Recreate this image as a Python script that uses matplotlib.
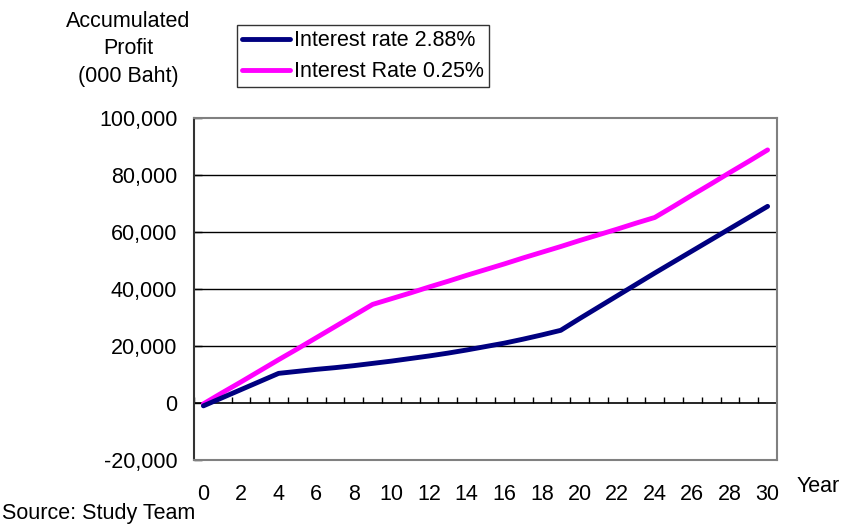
import numpy as np
import matplotlib.pyplot as plt
from matplotlib.ticker import FuncFormatter

plt.rcParams['font.family'] = ['Liberation Sans', 'DejaVu Sans']

DPI = 100
FIGSIZE = (8.41, 5.24)
FONTSIZE = 15.5
LINEWIDTH = 3.5
NAVY = '#000080'
MAGENTA = '#FF00FF'
GREY = '#808080'

# accumulated profit, thousand baht, years 0..30
years = np.arange(0, 31)
profit_288 = [-1000, 1850, 4700, 7550, 10400, 11100, 11800, 12400, 13100, 13900,
              14700, 15600, 16500, 17500, 18600, 19800, 21000, 22400, 23900, 25500,
              29600, 33600, 37600, 41600, 45600, 49500, 53400, 57300, 61200, 65100,
              69000]
profit_025 = [-300, 3600, 7400, 11300, 15200, 19000, 22900, 26800, 30700, 34600,
              36600, 38600, 40700, 42700, 44800, 46800, 48800, 50900, 52900, 54900,
              57000, 59000, 61000, 63100, 65100, 69000, 73000, 76900, 80900, 84800,
              88800]
labels = ['Interest rate 2.88%', 'Interest Rate 0.25%']
y_ticks = [-20000, 0, 20000, 40000, 60000, 80000, 100000]
x_ticks = np.arange(0, 31, 2)


def main():
    fig = plt.figure(figsize=FIGSIZE, dpi=DPI)
    ax = fig.add_axes([194 / 841, 1 - 460 / 524, 583 / 841, 342 / 524])

    # horizontal gridlines, black like the source workbook
    for v in y_ticks[2:-1]:
        ax.axhline(v, color='black', lw=1.0, zorder=1)

    # category axis at zero with ticks between categories
    ax.axhline(0, color='black', lw=1.2, zorder=2)
    bounds = np.arange(-0.5, 31, 1)
    ax.vlines(bounds, 0, 2100, color='black', lw=1.0, zorder=2)

    l1, = ax.plot(years, profit_288, color=NAVY, lw=LINEWIDTH,
                  solid_capstyle='round', zorder=4)
    l2, = ax.plot(years, profit_025, color=MAGENTA, lw=LINEWIDTH,
                  solid_capstyle='round', zorder=3)

    ax.set_xlim(-0.5, 30.5)
    ax.set_ylim(-20000, 100000)
    ax.set_yticks(y_ticks)
    ax.yaxis.set_major_formatter(FuncFormatter(lambda v, p: f"{int(v):,}"))
    ax.set_xticks(x_ticks)
    ax.set_xticklabels([str(x) for x in x_ticks])
    ax.tick_params(axis='x', length=0, pad=17, labelsize=FONTSIZE)
    ax.tick_params(axis='y', direction='in', length=6, width=1.0, pad=12,
                   labelsize=FONTSIZE)

    for side in ['top', 'right', 'bottom']:
        ax.spines[side].set_color(GREY)
        ax.spines[side].set_linewidth(1.5)
    ax.spines['left'].set_color('#333333')
    ax.spines['left'].set_linewidth(1.5)

    fig.text(128 / 841, 1 - 49 / 524, 'Accumulated\nProfit\n(000 Baht)',
             ha='center', va='center', fontsize=FONTSIZE, linespacing=1.38)
    fig.text(797 / 841, 1 - 487 / 524, 'Year', ha='left', va='center',
             fontsize=FONTSIZE)
    fig.text(2 / 841, 1 - 514 / 524, 'Source: Study Team', ha='left',
             va='center', fontsize=FONTSIZE)

    leg = fig.legend([l1, l2], labels, loc='upper left',
                     bbox_to_anchor=(237 / 841, 1 - 25 / 524),
                     fontsize=FONTSIZE, frameon=True, fancybox=False,
                     shadow=False, handlelength=2.2, handletextpad=0.2,
                     borderpad=0.25, labelspacing=0.45, borderaxespad=0)
    leg.get_frame().set_edgecolor('black')
    leg.get_frame().set_linewidth(1.0)

    plt.savefig('out.png', dpi=DPI)
    plt.close()


if __name__ == "__main__":
    main()
